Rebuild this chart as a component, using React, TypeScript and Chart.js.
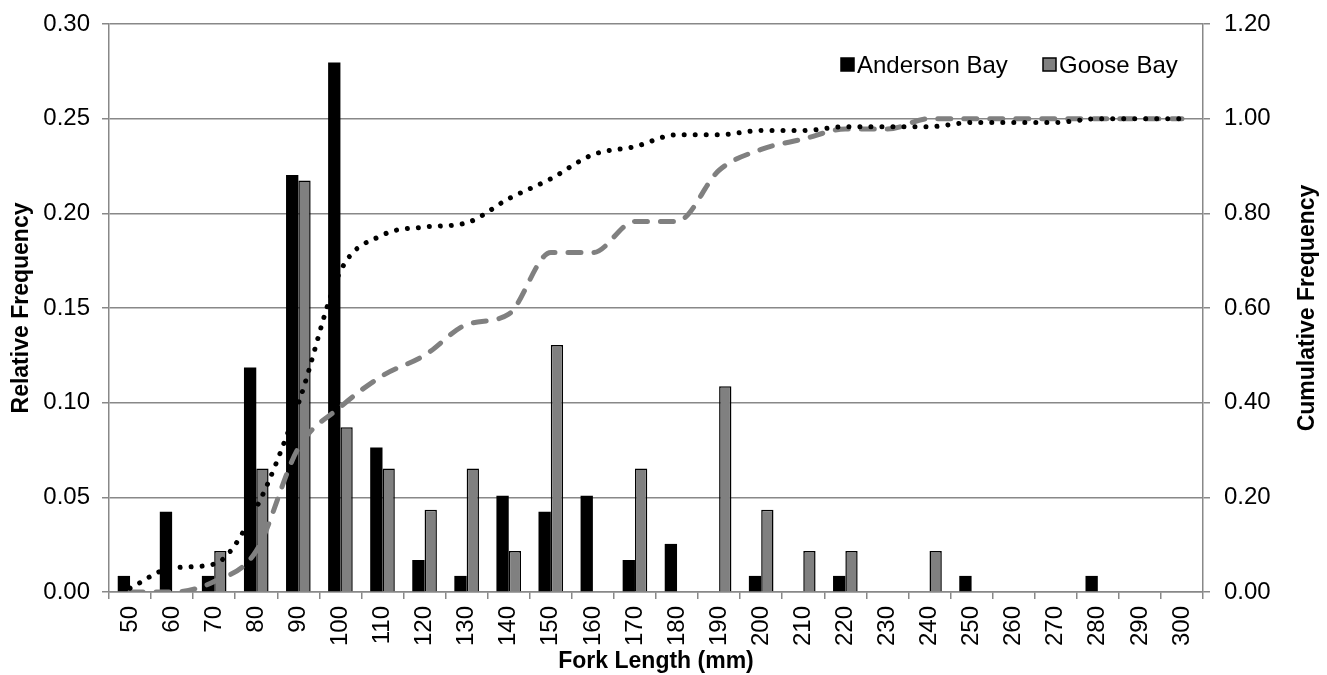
import React, { useEffect, useRef } from 'react';
import { Chart, registerables } from 'chart.js';

Chart.register(...registerables);

const forkLengths = ['50', '60', '70', '80', '90', '100', '110', '120', '130', '140', '150', '160', '170', '180', '190', '200', '210', '220', '230', '240', '250', '260', '270', '280', '290', '300'];

const andersonRel = [0.0085, 0.0424, 0.0085, 0.1186, 0.2203, 0.2797, 0.0763, 0.0169, 0.0085, 0.0508, 0.0424, 0.0508, 0.0169, 0.0254, 0, 0.0085, 0, 0.0085, 0, 0, 0.0085, 0, 0, 0.0085, 0, 0];
const gooseRel = [0, 0, 0.0217, 0.0652, 0.2174, 0.087, 0.0652, 0.0435, 0.0652, 0.0217, 0.1304, 0, 0.0652, 0, 0.1087, 0.0435, 0.0217, 0.0217, 0, 0.0217, 0, 0, 0, 0, 0, 0];

const andersonCum = [0.008, 0.051, 0.059, 0.178, 0.398, 0.678, 0.754, 0.771, 0.78, 0.831, 0.873, 0.924, 0.941, 0.966, 0.966, 0.975, 0.975, 0.983, 0.983, 0.983, 0.992, 0.992, 0.992, 1.0, 1.0, 1.0];
const gooseCum = [0, 0, 0.022, 0.087, 0.304, 0.391, 0.457, 0.5, 0.565, 0.587, 0.717, 0.717, 0.783, 0.783, 0.891, 0.935, 0.957, 0.978, 0.978, 1, 1, 1, 1, 1, 1, 1];

const leftTicks = [0, 0.05, 0.1, 0.15, 0.2, 0.25, 0.3];
const rightTicks = [0, 0.2, 0.4, 0.6, 0.8, 1.0, 1.2];

const FONT = "'Liberation Sans', Arial, sans-serif";
const GRID = '#888888';

const overlayPlugin = {
  id: 'overlay',
  afterDraw(chart: any) {
    const { ctx, chartArea } = chart;
    ctx.save();
    // legend
    ctx.font = `24px ${FONT}`;
    ctx.textBaseline = 'middle';
    ctx.textAlign = 'left';
    const ly = 65;
    const items = [
      { label: 'Anderson Bay', fill: '#000000', x: chartArea.right - 362 },
      { label: 'Goose Bay', fill: '#808080', x: chartArea.right - 160 },
    ];
    items.forEach((it) => {
      ctx.fillStyle = it.fill;
      ctx.fillRect(it.x, ly - 7, 13, 13);
      ctx.strokeStyle = '#000';
      ctx.lineWidth = 1.5;
      ctx.strokeRect(it.x, ly - 7, 13, 13);
      ctx.fillStyle = '#000';
      ctx.fillText(it.label, it.x + 16, ly + 1);
    });
    // right axis title
    ctx.font = `bold 23px ${FONT}`;
    ctx.textAlign = 'center';
    ctx.translate(chart.width - 19, (chartArea.top + chartArea.bottom) / 2);
    ctx.rotate(-Math.PI / 2);
    ctx.fillText('Cumulative Frequency', 0, 0);
    ctx.restore();
  },
};

export default function App() {
  const ref = useRef<HTMLCanvasElement | null>(null);
  useEffect(() => {
    if (!ref.current) return;
    const chart = new Chart(ref.current, {
      type: 'bar',
      data: {
        labels: forkLengths,
        datasets: [
          {
            type: 'line',
            label: 'Anderson Bay cumulative',
            data: andersonCum,
            yAxisID: 'y1',
            borderColor: '#000000',
            borderWidth: 5,
            borderDash: [0.01, 11],
            borderCapStyle: 'round',
            pointRadius: 0,
            cubicInterpolationMode: 'monotone',
            fill: false,
            order: 0,
          } as any,
          {
            type: 'line',
            label: 'Goose Bay cumulative',
            data: gooseCum,
            yAxisID: 'y1',
            borderColor: '#808080',
            borderWidth: 5,
            borderDash: [13, 13],
            borderCapStyle: 'round',
            pointRadius: 0,
            cubicInterpolationMode: 'monotone',
            fill: false,
            order: 0,
          } as any,
          {
            type: 'bar',
            label: 'Anderson Bay',
            data: andersonRel,
            yAxisID: 'y',
            backgroundColor: '#000000',
            borderColor: '#000000',
            borderWidth: 0,
            categoryPercentage: 0.585,
            barPercentage: 1,
            order: 1,
          },
          {
            type: 'bar',
            label: 'Goose Bay',
            data: gooseRel,
            yAxisID: 'y',
            backgroundColor: '#808080',
            borderColor: '#000000',
            borderWidth: 1.5,
            categoryPercentage: 0.585,
            barPercentage: 1,
            order: 1,
          },
        ],
      },
      options: {
        animation: false,
        responsive: true,
        maintainAspectRatio: false,
        layout: { padding: { top: 24, left: 0, right: 0, bottom: 0 } },
        plugins: {
          legend: { display: false },
          tooltip: { enabled: false },
        },
        scales: {
          x: {
            type: 'category',
            offset: true,
            grid: {
              offset: true,
              drawOnChartArea: false,
              drawTicks: true,
              tickLength: 7,
              color: GRID,
              lineWidth: 1.5,
            },
            border: { color: GRID, width: 1.5 },
            ticks: {
              autoSkip: false,
              minRotation: 90,
              maxRotation: 90,
              padding: 7,
              color: '#000',
              font: { family: FONT, size: 24 },
            },
            title: {
              display: true,
              text: 'Fork Length (mm)',
              color: '#000',
              font: { family: FONT, size: 23, weight: 'bold' },
              padding: { top: 0, bottom: 0 },
            },
            afterFit: (s: any) => {
              s.height = 83;
              s.paddingTop = 0;
            },
          },
          y: {
            type: 'linear',
            position: 'left',
            min: 0,
            max: 0.3,
            afterBuildTicks: (s: any) => {
              s.ticks = leftTicks.map((v) => ({ value: v }));
            },
            grid: { color: GRID, lineWidth: 1.5, tickLength: 7 },
            border: { color: GRID, width: 1.5 },
            ticks: {
              padding: 12,
              color: '#000',
              font: { family: FONT, size: 24 },
              callback: (v: any) => Number(v).toFixed(2),
            },
            title: {
              display: true,
              text: 'Relative Frequency',
              color: '#000',
              font: { family: FONT, size: 23, weight: 'bold' },
              padding: { top: 8, bottom: 0 },
            },
            afterFit: (s: any) => {
              s.width = 109;
              s.paddingTop = 0;
              s.paddingBottom = 0;
            },
          },
          y1: {
            type: 'linear',
            position: 'right',
            min: 0,
            max: 1.2,
            afterBuildTicks: (s: any) => {
              s.ticks = rightTicks.map((v) => ({ value: v }));
            },
            grid: { drawOnChartArea: false, color: GRID, lineWidth: 1.5, tickLength: 7 },
            border: { color: GRID, width: 1.5 },
            ticks: {
              padding: 14,
              color: '#000',
              font: { family: FONT, size: 24 },
              callback: (v: any) => Number(v).toFixed(2),
            },
            afterFit: (s: any) => {
              s.width = 124;
              s.paddingTop = 0;
              s.paddingBottom = 0;
            },
          },
        },
      },
      plugins: [overlayPlugin],
    } as any);
    return () => chart.destroy();
  }, []);

  return (
    <div style={{ position: 'fixed', left: 0, top: 0, width: 1327, height: 675, background: '#fff' }}>
      <canvas ref={ref} />
    </div>
  );
}
